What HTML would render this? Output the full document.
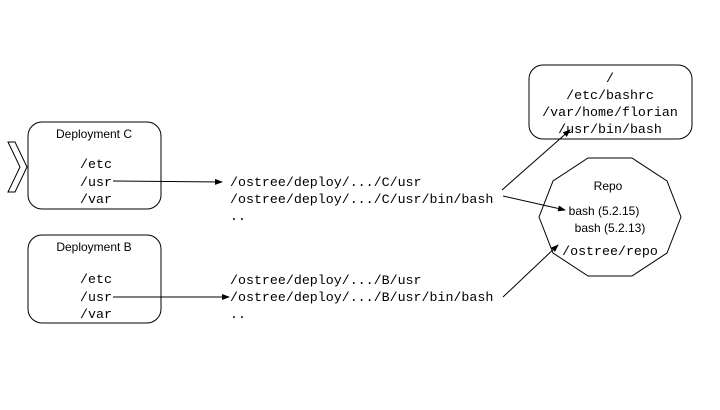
<!DOCTYPE html>
<html><head><style>
body{margin:0;background:#fff}
svg text{font-family:"Liberation Mono",monospace;font-size:13.3px;fill:#000}
svg text.s{font-family:"Liberation Sans",sans-serif;font-size:12px}
</style></head><body>
<svg width="720" height="405" viewBox="0 0 720 405">
<defs><marker id="a" markerWidth="8" markerHeight="6" refX="7" refY="3" orient="auto" markerUnits="userSpaceOnUse"><path d="M0,0L8,3L0,6z" fill="#000"/></marker></defs>
<g fill="none" stroke="#000" stroke-width="1">
<polygon points="8,142 15,142 27,167 15,192 8,192 20,167"/>
<rect x="28" y="122" width="133" height="87" rx="14"/>
<rect x="28" y="235" width="133" height="88" rx="14"/>
<rect x="529" y="65" width="163" height="74" rx="14"/>
<polygon points="681,217 667,253 632,276 588,276 553,253 539,217 553,181 588,158 632,158 667,181"/>
<line x1="113" y1="181" x2="222" y2="182" marker-end="url(#a)"/>
<line x1="113" y1="297" x2="229" y2="297" marker-end="url(#a)"/>
<line x1="502" y1="190" x2="570" y2="130" marker-end="url(#a)"/>
<line x1="503" y1="196" x2="565" y2="210" marker-end="url(#a)"/>
<line x1="503" y1="297" x2="558" y2="245" marker-end="url(#a)"/>
</g>
<text class="s" x="94" y="138" text-anchor="middle">Deployment C</text>
<text x="80" y="168">/etc</text>
<text x="80" y="186">/usr</text>
<text x="80" y="203">/var</text>
<text class="s" x="94" y="251" text-anchor="middle">Deployment B</text>
<text x="80" y="283">/etc</text>
<text x="80" y="301">/usr</text>
<text x="80" y="318">/var</text>
<text x="230" y="186">/ostree/deploy/.../C/usr</text>
<text x="230" y="203">/ostree/deploy/.../C/usr/bin/bash</text>
<text x="230" y="220">..</text>
<text x="230" y="284">/ostree/deploy/.../B/usr</text>
<text x="230" y="301">/ostree/deploy/.../B/usr/bin/bash</text>
<text x="230" y="318">..</text>
<text x="610" y="82" text-anchor="middle">/</text>
<text x="610" y="99" text-anchor="middle">/etc/bashrc</text>
<text x="610" y="116" text-anchor="middle">/var/home/florian</text>
<text x="610" y="133" text-anchor="middle">/usr/bin/bash</text>
<text class="s" x="608" y="190" text-anchor="middle">Repo</text>
<text class="s" x="604" y="215" text-anchor="middle">bash (5.2.15)</text>
<text class="s" x="610" y="232" text-anchor="middle">bash (5.2.13)</text>
<text x="610" y="255" text-anchor="middle">/ostree/repo</text>
</svg>
</body></html>
